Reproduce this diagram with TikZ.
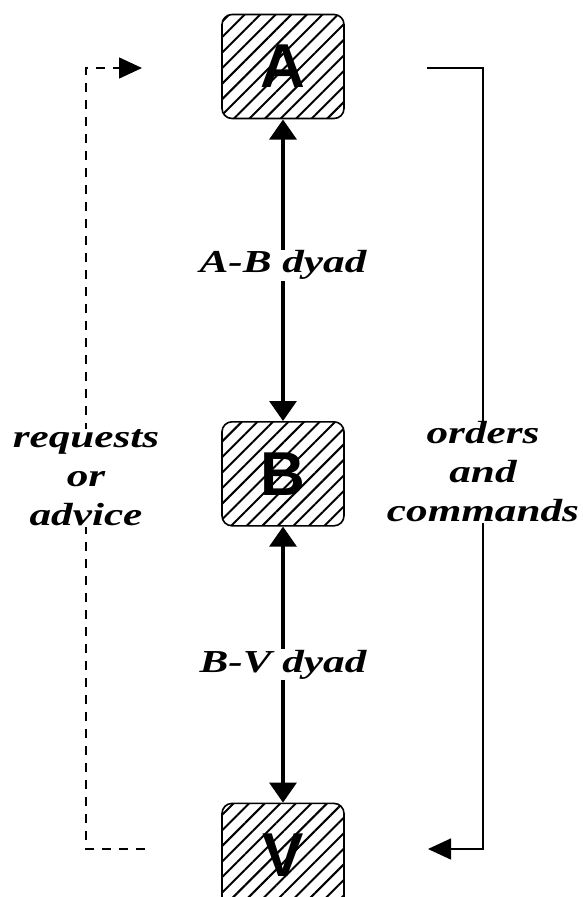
\documentclass[tikz,border=0pt]{standalone}
\usepackage{fontspec}
\newfontfamily\tagfont{Liberation Serif}[FakeStretch=1.35]
\newfontfamily\letterfont{Liberation Sans}
\usetikzlibrary{
	arrows.meta,positioning,calc,patterns.meta
}
\tikzset{
	x=1pt, y=-1pt,
	rolebox/.style={
		rectangle, minimum width=122pt, minimum height=104pt, inner sep=0pt,
		rounded corners=10pt, line width=1.6pt, draw=black,
		pattern={Lines[angle=45,distance=11pt,line width=2pt]},
		font=\letterfont\bfseries\fontsize{62}{62}\selectfont
	},
	%
	dyadarrow/.style={
		<->, >={Triangle[width=27pt,length=20pt]}, line width=3.2pt
	},
	%
	sidearrow/.style={
		->, >={Triangle[width=21pt,length=23pt]}, line width=1.4pt
	},
	%
	mytagbox/.style={
		rectangle, fill=white, inner sep=1pt, align=center,
		font=\tagfont\bfseries\itshape\fontsize{32}{39}\selectfont
	}
}
\begin{document}
\begin{tikzpicture}
    \useasboundingbox (0,0) rectangle (583,897);
    \node(A)[rolebox] at (283,66.5){A};
    \node(B)[rolebox, below=301.5pt of A]{B};
    \node(V)[rolebox, below=276pt of B]{V};
    \draw[dyadarrow] (A) -- (B);
    \draw[dyadarrow] (B) -- (V);
    \node(ABtag)[mytagbox] at ($(A)!0.5!(B)+(0,-5)$){A-B dyad};
    \node(BVtag)[mytagbox] at ($(B)!0.5!(V)$){B-V dyad};
    % requests go up from V to A
    \coordinate(reqfrom) at (145,849);
    \coordinate(reqto) at (142,68);
    \coordinate(reqside) at (86,0);
    \draw[sidearrow, dash pattern=on 9pt off 8pt] (reqfrom) -- (reqfrom -| reqside) |- (reqto);
    % orders go down from A to V
    \coordinate(ordfrom) at (427,68);
    \coordinate(ordto) at (428,849);
    \coordinate(ordside) at (483,0);
    \draw[sidearrow] (ordfrom) -- (ordfrom -| ordside) |- (ordto);
    \node(reqtag)[mytagbox] at (86,478){requests\\or\\advice};
    \node(ordtag)[mytagbox] at (483,472){orders\\and\\commands};
\end{tikzpicture}
\end{document}
